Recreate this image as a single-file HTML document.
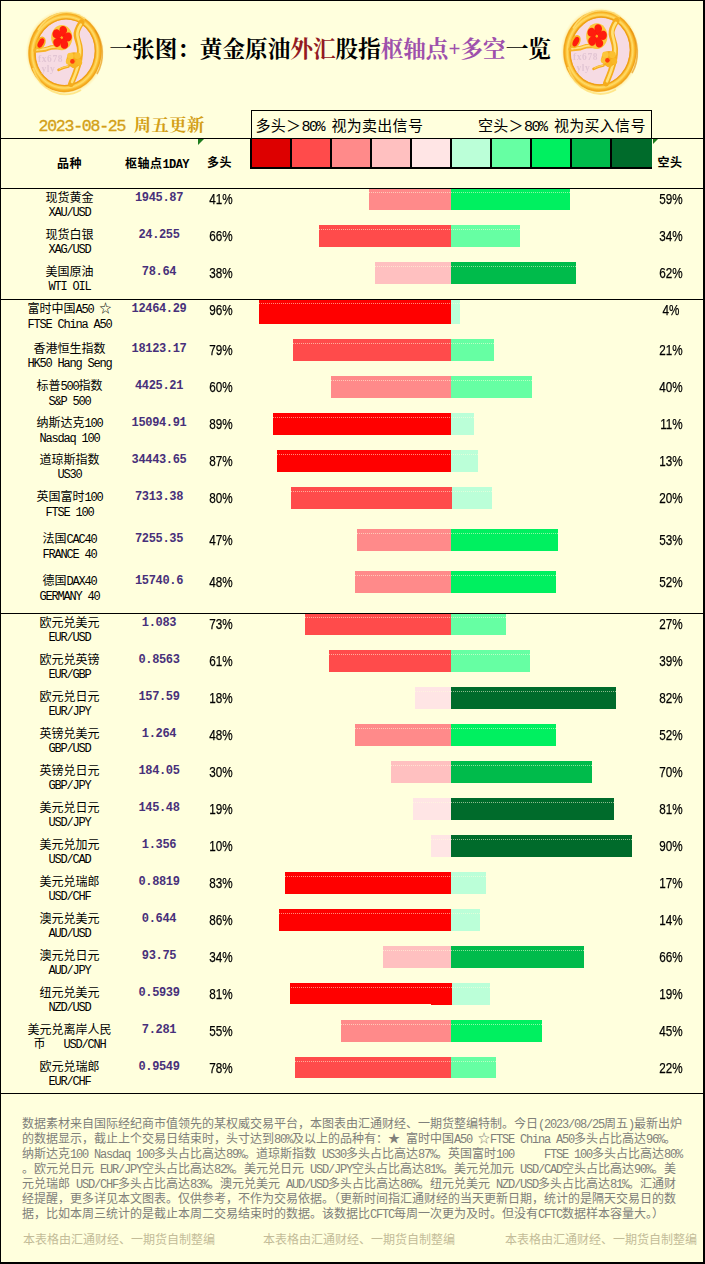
<!DOCTYPE html>
<html lang="zh-CN"><head><meta charset="utf-8"><title>一张图：黄金原油外汇股指枢轴点+多空一览</title>
<style>
html,body{margin:0;padding:0;background:#FFFFDD}
body{width:705px;height:1264px;position:relative;overflow:hidden;background:#FFFFDD;font-family:"Liberation Serif",serif;color:#000}
div,span{box-sizing:border-box}
.a{position:absolute;white-space:nowrap}
.hl{position:absolute;left:0;width:703px;height:1px;background:#000}
.l{font-family:"Liberation Mono",monospace;letter-spacing:-.1em;display:inline-block;white-space:pre;text-align:left;vertical-align:baseline}
.c{display:inline-block;position:relative;white-space:nowrap;vertical-align:baseline;text-align:left;letter-spacing:0;font-family:"Liberation Sans","Noto Sans CJK SC",sans-serif}
.ti .c{font-family:"Liberation Serif","Noto Serif CJK SC",serif;font-weight:bold}
.dt0 .c{font-family:"Liberation Serif","Noto Serif CJK SC",serif;font-weight:bold;letter-spacing:.4px}
.hd .c{letter-spacing:.5px}
.lgt .c{letter-spacing:.3px}
.ti{left:109.5px;top:36px;font-size:22.6px;line-height:28px}
.ti .pl{font-size:21px;font-weight:bold;position:relative;top:-1.5px}
.dt0{left:38.5px;top:116px;font-size:17.33px;line-height:20px;color:#D3A017}
.dn{display:inline-block;white-space:pre;width:95.3px;font-family:"Liberation Mono",monospace;letter-spacing:-1.23px;font-size:16.5px;-webkit-text-stroke:.35px #D3A017}
.lgt{top:116px;font-size:15px;line-height:19px}
.nm{position:absolute;left:9.5px;width:120px;text-align:center;font-size:12px;line-height:14px;white-space:nowrap}
.pv{position:absolute;left:110px;width:100px;text-align:center;font:bold 12px/14px "Liberation Mono",monospace;letter-spacing:-.34px;color:#47307A;white-space:nowrap}
.pc{position:absolute;width:60px;text-align:center;font:15px/16px "Liberation Sans",sans-serif;white-space:nowrap;color:#000;-webkit-text-stroke:.25px #000}
.pc span{display:inline-block;transform:scaleX(.78)}
.br{position:absolute}
.dt{position:absolute;height:1px;background:repeating-linear-gradient(90deg,rgba(255,255,221,.55) 0 1px,rgba(255,255,221,0) 1px 2px)}
.hd{position:absolute;font-weight:bold;font-size:12px;line-height:14px;white-space:nowrap}
.ft{position:absolute;left:22px;font-size:12px;line-height:15px;color:#80807A;white-space:nowrap}
.wm{position:absolute;top:1233px;font-size:12px;line-height:14px;color:#C3BC98;white-space:nowrap}
.lg{position:absolute;top:139px;height:28px;width:38px}
.dv{position:absolute;top:138px;height:31px;width:2px;background:#000}

</style></head><body>
<div class="a" style="left:0;top:0;width:705px;height:1px;background:#000"></div>
<div class="a" style="left:0;top:0;width:1px;height:1264px;background:#000"></div>
<div class="a" style="left:703px;top:0;width:2px;height:1264px;background:#000"></div>
<div class="a" style="left:0;top:1262px;width:705px;height:2px;background:#000"></div>
<svg width="0" height="0" style="position:absolute">
<defs>
<radialGradient id="gRing" cx="50%" cy="50%" r="50%">
<stop offset="0.78" stop-color="#EC9A14"/>
<stop offset="0.83" stop-color="#FBBA2C"/>
<stop offset="0.89" stop-color="#FFDC68"/>
<stop offset="0.94" stop-color="#F9B628"/>
<stop offset="0.975" stop-color="#F0A21A"/>
<stop offset="1" stop-color="#F7BE4A"/>
</radialGradient>
<radialGradient id="gGlow" cx="50%" cy="50%" r="50%">
<stop offset="0.88" stop-color="#FBD56A" stop-opacity="0.9"/>
<stop offset="1" stop-color="#FFF3B0" stop-opacity="0"/>
</radialGradient>
<linearGradient id="gGold" x1="0" y1="0" x2="1" y2="0">
<stop offset="0" stop-color="#F5A81A"/>
<stop offset="0.5" stop-color="#FFD75A"/>
<stop offset="1" stop-color="#F0A010"/>
</linearGradient>
<filter id="fSoft" x="-10%" y="-10%" width="120%" height="120%"><feGaussianBlur stdDeviation="0.55"/></filter>
<filter id="fSoft2" x="-10%" y="-10%" width="120%" height="120%"><feGaussianBlur stdDeviation="0.35"/></filter>
</defs></svg><svg class="a" style="left:25px;top:8px" width="80" height="88" viewBox="0 0 80 88" preserveAspectRatio="none"><g>
<ellipse cx="40" cy="44.3" rx="39.5" ry="42.8" fill="url(#gGlow)"/>
<g filter="url(#fSoft)">
<ellipse cx="40" cy="44.3" rx="36.8" ry="40.2" fill="url(#gRing)" transform="rotate(8 40 44.3)"/>
<ellipse cx="40.2" cy="44.2" rx="29.6" ry="33" fill="#F6DBE3" transform="rotate(10 40 44.3)"/>
<ellipse cx="40.2" cy="44.2" rx="30" ry="33.4" fill="none" stroke="#EFA018" stroke-width="1.4" transform="rotate(10 40 44.3)"/>
<path d="M13 22 A33 36 0 0 1 60 11" fill="none" stroke="#FFE27A" stroke-width="1.6" opacity=".8"/>
<path d="M8 60 A34 38 0 0 0 56 82" fill="none" stroke="#FFDF70" stroke-width="1.8" opacity=".75"/>
<path d="M70 22 A34 38 0 0 1 72 66" fill="none" stroke="#E58C0A" stroke-width="1.6" opacity=".6"/>
</g>
<g font-family="'Liberation Serif',serif" font-weight="bold" font-size="9.5" fill="#DDC0D0" opacity=".8" letter-spacing="0.6">
<text x="13" y="53.5">fx678</text>
<text x="16.5" y="64">yly</text>
</g>
<g filter="url(#fSoft2)">
<!-- main branch -->
<path d="M56.5 14.5 C53.5 19 51 23 51.6 27.5 C52.2 32 54.8 36 55 42 C55.2 48 54 55 51.5 62 C50 67 47.8 71.5 46 76" fill="none" stroke="#F5AC1C" stroke-width="6" stroke-linecap="round"/>
<path d="M55.8 16.5 C53.4 20 52 24 52.4 27.5 C53 32 55 36 55.1 42 C55.2 48 54 55 51.6 62 C50.4 66 48.6 70 47 74" fill="none" stroke="#FFE27A" stroke-width="2.6" stroke-linecap="round"/>
<!-- horizontal stem -->
<path d="M10.5 42.5 C15 41.5 19 42.5 23 40.5 C27 38.5 32 39.5 37.5 39.5" fill="none" stroke="#F7B226" stroke-width="4.4" stroke-linecap="round"/>
<path d="M12 42 C16 41 19.5 41.8 23.5 40 C27.5 38.4 32 39 36.5 39" fill="none" stroke="#FFE27A" stroke-width="1.8" stroke-linecap="round"/>
<!-- bud left -->
<ellipse cx="15.6" cy="35" rx="4.6" ry="6.8" fill="#F8B524" transform="rotate(28 15.6 35)"/>
<ellipse cx="15.9" cy="35" rx="2.7" ry="5" fill="#FF1B08" transform="rotate(28 15.9 35)"/>
<!-- big flower -->
<ellipse cx="36.8" cy="29.6" rx="10.6" ry="12.6" fill="#FCC63A"/>
<g fill="#FF1A08" transform="translate(36.8 29.6) scale(.96 1.13) rotate(8)">
<path d="M0.3 -0.6 C-2.6 -2.6 -4.6 -6.6 -2.6 -9.2 C-0.8 -11.3 3.4 -10.8 4.4 -7.6 C5 -5.4 3.4 -2.6 1.2 -1 C0.9 -0.8 0.6 -0.7 0.3 -0.6 Z"/><path d="M0.3 -0.6 C-2.6 -2.6 -4.6 -6.6 -2.6 -9.2 C-0.8 -11.3 3.4 -10.8 4.4 -7.6 C5 -5.4 3.4 -2.6 1.2 -1 C0.9 -0.8 0.6 -0.7 0.3 -0.6 Z" transform="rotate(72)"/><path d="M0.3 -0.6 C-2.6 -2.6 -4.6 -6.6 -2.6 -9.2 C-0.8 -11.3 3.4 -10.8 4.4 -7.6 C5 -5.4 3.4 -2.6 1.2 -1 C0.9 -0.8 0.6 -0.7 0.3 -0.6 Z" transform="rotate(144)"/><path d="M0.3 -0.6 C-2.6 -2.6 -4.6 -6.6 -2.6 -9.2 C-0.8 -11.3 3.4 -10.8 4.4 -7.6 C5 -5.4 3.4 -2.6 1.2 -1 C0.9 -0.8 0.6 -0.7 0.3 -0.6 Z" transform="rotate(216)"/><path d="M0.3 -0.6 C-2.6 -2.6 -4.6 -6.6 -2.6 -9.2 C-0.8 -11.3 3.4 -10.8 4.4 -7.6 C5 -5.4 3.4 -2.6 1.2 -1 C0.9 -0.8 0.6 -0.7 0.3 -0.6 Z" transform="rotate(288)"/>
</g>
<circle cx="36.8" cy="29.6" r="1.2" fill="#FFB020"/>
<!-- gold flower -->
<g transform="translate(49 51.8)">
<circle r="7.6" fill="#F6AC1C"/>
<circle cx="-3.6" cy="-3.8" r="3.3" fill="#FCC63A"/>
<circle cx="3.4" cy="-4" r="3.3" fill="#FBC030"/>
<circle cx="5" cy="2.4" r="3.2" fill="#F9B828"/>
<circle cx="-5" cy="1.6" r="3.2" fill="#FBC234"/>
<circle cx="0.2" cy="5.2" r="3.2" fill="#F8B422"/>
<circle cx="-1.6" cy="1.6" r="2.3" fill="#FF3A10"/>
</g>
<!-- twig -->
<path d="M43.5 58.5 C40 59 37 60 33.5 61.8" fill="none" stroke="#F5AA1C" stroke-width="2.6" stroke-linecap="round"/>
<path d="M43 58.3 C40 58.8 37.5 59.5 34.5 61" fill="none" stroke="#FFDC66" stroke-width="0.9" stroke-linecap="round"/>
</g>
</g></svg><svg class="a" style="left:560px;top:6.3px" width="80" height="89.6" viewBox="0 0 80 88" preserveAspectRatio="none"><g>
<ellipse cx="40" cy="44.3" rx="39.5" ry="42.8" fill="url(#gGlow)"/>
<g filter="url(#fSoft)">
<ellipse cx="40" cy="44.3" rx="36.8" ry="40.2" fill="url(#gRing)" transform="rotate(8 40 44.3)"/>
<ellipse cx="40.2" cy="44.2" rx="29.6" ry="33" fill="#F6DBE3" transform="rotate(10 40 44.3)"/>
<ellipse cx="40.2" cy="44.2" rx="30" ry="33.4" fill="none" stroke="#EFA018" stroke-width="1.4" transform="rotate(10 40 44.3)"/>
<path d="M13 22 A33 36 0 0 1 60 11" fill="none" stroke="#FFE27A" stroke-width="1.6" opacity=".8"/>
<path d="M8 60 A34 38 0 0 0 56 82" fill="none" stroke="#FFDF70" stroke-width="1.8" opacity=".75"/>
<path d="M70 22 A34 38 0 0 1 72 66" fill="none" stroke="#E58C0A" stroke-width="1.6" opacity=".6"/>
</g>
<g font-family="'Liberation Serif',serif" font-weight="bold" font-size="9.5" fill="#DDC0D0" opacity=".8" letter-spacing="0.6">
<text x="13" y="53.5">fx678</text>
<text x="16.5" y="64">yly</text>
</g>
<g filter="url(#fSoft2)">
<!-- main branch -->
<path d="M56.5 14.5 C53.5 19 51 23 51.6 27.5 C52.2 32 54.8 36 55 42 C55.2 48 54 55 51.5 62 C50 67 47.8 71.5 46 76" fill="none" stroke="#F5AC1C" stroke-width="6" stroke-linecap="round"/>
<path d="M55.8 16.5 C53.4 20 52 24 52.4 27.5 C53 32 55 36 55.1 42 C55.2 48 54 55 51.6 62 C50.4 66 48.6 70 47 74" fill="none" stroke="#FFE27A" stroke-width="2.6" stroke-linecap="round"/>
<!-- horizontal stem -->
<path d="M10.5 42.5 C15 41.5 19 42.5 23 40.5 C27 38.5 32 39.5 37.5 39.5" fill="none" stroke="#F7B226" stroke-width="4.4" stroke-linecap="round"/>
<path d="M12 42 C16 41 19.5 41.8 23.5 40 C27.5 38.4 32 39 36.5 39" fill="none" stroke="#FFE27A" stroke-width="1.8" stroke-linecap="round"/>
<!-- bud left -->
<ellipse cx="15.6" cy="35" rx="4.6" ry="6.8" fill="#F8B524" transform="rotate(28 15.6 35)"/>
<ellipse cx="15.9" cy="35" rx="2.7" ry="5" fill="#FF1B08" transform="rotate(28 15.9 35)"/>
<!-- big flower -->
<ellipse cx="36.8" cy="29.6" rx="10.6" ry="12.6" fill="#FCC63A"/>
<g fill="#FF1A08" transform="translate(36.8 29.6) scale(.96 1.13) rotate(8)">
<path d="M0.3 -0.6 C-2.6 -2.6 -4.6 -6.6 -2.6 -9.2 C-0.8 -11.3 3.4 -10.8 4.4 -7.6 C5 -5.4 3.4 -2.6 1.2 -1 C0.9 -0.8 0.6 -0.7 0.3 -0.6 Z"/><path d="M0.3 -0.6 C-2.6 -2.6 -4.6 -6.6 -2.6 -9.2 C-0.8 -11.3 3.4 -10.8 4.4 -7.6 C5 -5.4 3.4 -2.6 1.2 -1 C0.9 -0.8 0.6 -0.7 0.3 -0.6 Z" transform="rotate(72)"/><path d="M0.3 -0.6 C-2.6 -2.6 -4.6 -6.6 -2.6 -9.2 C-0.8 -11.3 3.4 -10.8 4.4 -7.6 C5 -5.4 3.4 -2.6 1.2 -1 C0.9 -0.8 0.6 -0.7 0.3 -0.6 Z" transform="rotate(144)"/><path d="M0.3 -0.6 C-2.6 -2.6 -4.6 -6.6 -2.6 -9.2 C-0.8 -11.3 3.4 -10.8 4.4 -7.6 C5 -5.4 3.4 -2.6 1.2 -1 C0.9 -0.8 0.6 -0.7 0.3 -0.6 Z" transform="rotate(216)"/><path d="M0.3 -0.6 C-2.6 -2.6 -4.6 -6.6 -2.6 -9.2 C-0.8 -11.3 3.4 -10.8 4.4 -7.6 C5 -5.4 3.4 -2.6 1.2 -1 C0.9 -0.8 0.6 -0.7 0.3 -0.6 Z" transform="rotate(288)"/>
</g>
<circle cx="36.8" cy="29.6" r="1.2" fill="#FFB020"/>
<!-- gold flower -->
<g transform="translate(49 51.8)">
<circle r="7.6" fill="#F6AC1C"/>
<circle cx="-3.6" cy="-3.8" r="3.3" fill="#FCC63A"/>
<circle cx="3.4" cy="-4" r="3.3" fill="#FBC030"/>
<circle cx="5" cy="2.4" r="3.2" fill="#F9B828"/>
<circle cx="-5" cy="1.6" r="3.2" fill="#FBC234"/>
<circle cx="0.2" cy="5.2" r="3.2" fill="#F8B422"/>
<circle cx="-1.6" cy="1.6" r="2.3" fill="#FF3A10"/>
</g>
<!-- twig -->
<path d="M43.5 58.5 C40 59 37 60 33.5 61.8" fill="none" stroke="#F5AA1C" stroke-width="2.6" stroke-linecap="round"/>
<path d="M43 58.3 C40 58.8 37.5 59.5 34.5 61" fill="none" stroke="#FFDC66" stroke-width="0.9" stroke-linecap="round"/>
</g>
</g></svg>
<div class="a ti"><span class="c" style="width:180.8px">一张图：黄金原油</span><span style="color:#931A22"><span class="c" style="width:45.2px">外汇</span></span><span class="c" style="width:45.2px">股指</span><span style="color:#9E50AC"><span class="c" style="width:67.8px">枢轴点</span><span class="pl">+</span><span class="c" style="width:45.2px">多空</span></span><span class="c" style="width:45.2px">一览</span></div>
<div class="a dt0"><span class="dn">2023-08-25 </span><span class="c" style="width:70.92px">周五更新</span></div>
<div class="a" style="left:251px;top:110px;width:401px;height:29px;border:1px solid #000;border-bottom:none"></div>
<div class="a lgt" style="left:255.5px"><span class="c" style="width:45.9px">多头＞</span><span class="l" style="width:30px">80% </span><span class="c" style="width:91.8px">视为卖出信号</span></div>
<div class="a lgt" style="left:478px"><span class="c" style="width:45.9px">空头＞</span><span class="l" style="width:30px">80% </span><span class="c" style="width:91.8px">视为买入信号</span></div>
<div class="lg" style="left:252px;background:#DD0000"></div>
<div class="lg" style="left:292px;background:#FF4B4B"></div>
<div class="lg" style="left:332px;background:#FF8A8A"></div>
<div class="lg" style="left:372px;background:#FFC0C0"></div>
<div class="lg" style="left:412px;background:#FFE5E5"></div>
<div class="lg" style="left:452px;background:#BBFFD8"></div>
<div class="lg" style="left:492px;background:#66FFA3"></div>
<div class="lg" style="left:532px;background:#00F060"></div>
<div class="lg" style="left:572px;background:#00BB4B"></div>
<div class="lg" style="left:612px;background:#006B2B;width:40px"></div>
<div class="dv" style="left:250px"></div>
<div class="dv" style="left:290px"></div>
<div class="dv" style="left:330px"></div>
<div class="dv" style="left:370px"></div>
<div class="dv" style="left:410px"></div>
<div class="dv" style="left:450px"></div>
<div class="dv" style="left:490px"></div>
<div class="dv" style="left:530px"></div>
<div class="dv" style="left:570px"></div>
<div class="dv" style="left:610px"></div>
<div class="a" style="left:250px;top:167px;width:402px;height:2px;background:#000"></div>
<div class="a" style="left:198px;top:139px;width:0;height:0;border-top:6px solid #1E7D1E;border-right:6px solid transparent"></div>
<div class="a" style="left:653px;top:139px;width:0;height:0;border-top:5px solid #1E7D1E;border-right:5px solid transparent"></div>
<div class="hd" style="left:57px;top:157px"><span class="c" style="width:25px">品种</span></div>
<div class="hd" style="left:125px;top:157px"><span class="c" style="width:37.5px">枢轴点</span><span class="l" style="letter-spacing:-.6px">1DAY</span></div>
<div class="hd" style="left:207px;top:156px"><span class="c" style="width:25px">多头</span></div>
<div class="hd" style="left:657.5px;top:156px"><span class="c" style="width:25px">空头</span></div>
<div class="nm" style="top:191px"><span class="c" style="width:48px">现货黄金</span><br><span class="l" style="width:42px">XAU/USD</span></div>
<div class="pv" style="left:109px;top:191px">1945.87</div>
<div class="pc" style="left:191px;top:191px"><span>41%</span></div>
<div class="pc" style="left:641px;top:191px"><span>59%</span></div>
<div class="br" style="left:369px;top:188px;width:82px;height:22px;background:#FF8A8A"></div>
<div class="br" style="left:451px;top:188px;width:119px;height:22px;background:#00F060"></div>
<div class="dt" style="left:369px;top:192px;width:201px"></div>
<div class="nm" style="top:228px"><span class="c" style="width:48px">现货白银</span><br><span class="l" style="width:42px">XAG/USD</span></div>
<div class="pv" style="left:109px;top:228px">24.255</div>
<div class="pc" style="left:191px;top:228px"><span>66%</span></div>
<div class="pc" style="left:641px;top:228px"><span>34%</span></div>
<div class="br" style="left:319px;top:225px;width:132px;height:22px;background:#FF4B4B"></div>
<div class="br" style="left:451px;top:225px;width:69px;height:22px;background:#66FFA3"></div>
<div class="dt" style="left:319px;top:229px;width:201px"></div>
<div class="nm" style="top:265px"><span class="c" style="width:48px">美国原油</span><br><span class="l" style="width:42px">WTI OIL</span></div>
<div class="pv" style="left:109px;top:265px">78.64</div>
<div class="pc" style="left:191px;top:265px"><span>38%</span></div>
<div class="pc" style="left:641px;top:265px"><span>62%</span></div>
<div class="br" style="left:375px;top:262px;width:76px;height:22px;background:#FFC0C0"></div>
<div class="br" style="left:451px;top:262px;width:125px;height:22px;background:#00BB4B"></div>
<div class="dt" style="left:375px;top:266px;width:201px"></div>
<div class="nm" style="top:302px"><span class="c" style="width:48px">富时中国</span><span class="l" style="width:24px">A50 </span><span class="c" style="width:12px">☆</span><br><span class="l" style="width:84px">FTSE China A50</span></div>
<div class="pv" style="left:109px;top:302px">12464.29</div>
<div class="pc" style="left:191px;top:302px"><span>96%</span></div>
<div class="pc" style="left:641px;top:302px"><span>4%</span></div>
<div class="br" style="left:259px;top:299px;width:192px;height:25px;background:#FF0000"></div>
<div class="br" style="left:451px;top:299px;width:9px;height:25px;background:#BBFFD8"></div>
<div class="dt" style="left:259px;top:303px;width:201px"></div>
<div class="nm" style="top:342px"><span class="c" style="width:72px">香港恒生指数</span><br><span class="l" style="width:84px">HK50 Hang Seng</span></div>
<div class="pv" style="left:109px;top:342px">18123.17</div>
<div class="pc" style="left:191px;top:342px"><span>79%</span></div>
<div class="pc" style="left:641px;top:342px"><span>21%</span></div>
<div class="br" style="left:293px;top:339px;width:158px;height:22px;background:#FF4B4B"></div>
<div class="br" style="left:451px;top:339px;width:43px;height:22px;background:#66FFA3"></div>
<div class="dt" style="left:293px;top:343px;width:201px"></div>
<div class="nm" style="top:379px"><span class="c" style="width:24px">标普</span><span class="l" style="width:18px">500</span><span class="c" style="width:24px">指数</span><br><span class="l" style="width:42px">S&amp;P 500</span></div>
<div class="pv" style="left:109px;top:379px">4425.21</div>
<div class="pc" style="left:191px;top:379px"><span>60%</span></div>
<div class="pc" style="left:641px;top:379px"><span>40%</span></div>
<div class="br" style="left:331px;top:376px;width:120px;height:22px;background:#FF8A8A"></div>
<div class="br" style="left:451px;top:376px;width:81px;height:22px;background:#66FFA3"></div>
<div class="dt" style="left:331px;top:380px;width:201px"></div>
<div class="nm" style="top:416px"><span class="c" style="width:48px">纳斯达克</span><span class="l" style="width:18px">100</span><br><span class="l" style="width:60px">Nasdaq 100</span></div>
<div class="pv" style="left:109px;top:416px">15094.91</div>
<div class="pc" style="left:191px;top:416px"><span>89%</span></div>
<div class="pc" style="left:641px;top:416px"><span>11%</span></div>
<div class="br" style="left:273px;top:413px;width:178px;height:22px;background:#FF0000"></div>
<div class="br" style="left:451px;top:413px;width:23px;height:22px;background:#BBFFD8"></div>
<div class="dt" style="left:273px;top:417px;width:201px"></div>
<div class="nm" style="top:453px"><span class="c" style="width:60px">道琼斯指数</span><br><span class="l" style="width:24px">US30</span></div>
<div class="pv" style="left:109px;top:453px">34443.65</div>
<div class="pc" style="left:191px;top:453px"><span>87%</span></div>
<div class="pc" style="left:641px;top:453px"><span>13%</span></div>
<div class="br" style="left:277px;top:450px;width:174px;height:22px;background:#FF0000"></div>
<div class="br" style="left:451px;top:450px;width:27px;height:22px;background:#BBFFD8"></div>
<div class="dt" style="left:277px;top:454px;width:201px"></div>
<div class="nm" style="top:490px"><span class="c" style="width:48px">英国富时</span><span class="l" style="width:18px">100</span><br><span class="l" style="width:48px">FTSE 100</span></div>
<div class="pv" style="left:109px;top:490px">7313.38</div>
<div class="pc" style="left:191px;top:490px"><span>80%</span></div>
<div class="pc" style="left:641px;top:490px"><span>20%</span></div>
<div class="br" style="left:291px;top:487px;width:161px;height:22px;background:#FF4B4B"></div>
<div class="br" style="left:452px;top:487px;width:40px;height:22px;background:#BBFFD8"></div>
<div class="dt" style="left:291px;top:491px;width:201px"></div>
<div class="nm" style="top:532px"><span class="c" style="width:24px">法国</span><span class="l" style="width:30px">CAC40</span><br><span class="l" style="width:54px">FRANCE 40</span></div>
<div class="pv" style="left:109px;top:532px">7255.35</div>
<div class="pc" style="left:191px;top:532px"><span>47%</span></div>
<div class="pc" style="left:641px;top:532px"><span>53%</span></div>
<div class="br" style="left:357px;top:529px;width:94px;height:22px;background:#FF8A8A"></div>
<div class="br" style="left:451px;top:529px;width:107px;height:22px;background:#00F060"></div>
<div class="dt" style="left:357px;top:533px;width:201px"></div>
<div class="nm" style="top:574px"><span class="c" style="width:24px">德国</span><span class="l" style="width:30px">DAX40</span><br><span class="l" style="width:60px">GERMANY 40</span></div>
<div class="pv" style="left:109px;top:574px">15740.6</div>
<div class="pc" style="left:191px;top:574px"><span>48%</span></div>
<div class="pc" style="left:641px;top:574px"><span>52%</span></div>
<div class="br" style="left:355px;top:571px;width:96px;height:22px;background:#FF8A8A"></div>
<div class="br" style="left:451px;top:571px;width:105px;height:22px;background:#00F060"></div>
<div class="dt" style="left:355px;top:575px;width:201px"></div>
<div class="nm" style="top:616px"><span class="c" style="width:60px">欧元兑美元</span><br><span class="l" style="width:42px">EUR/USD</span></div>
<div class="pv" style="left:109px;top:616px">1.083</div>
<div class="pc" style="left:191px;top:616px"><span>73%</span></div>
<div class="pc" style="left:641px;top:616px"><span>27%</span></div>
<div class="br" style="left:305px;top:613px;width:146px;height:22px;background:#FF4B4B"></div>
<div class="br" style="left:451px;top:613px;width:55px;height:22px;background:#66FFA3"></div>
<div class="dt" style="left:305px;top:617px;width:201px"></div>
<div class="nm" style="top:653px"><span class="c" style="width:60px">欧元兑英镑</span><br><span class="l" style="width:42px">EUR/GBP</span></div>
<div class="pv" style="left:109px;top:653px">0.8563</div>
<div class="pc" style="left:191px;top:653px"><span>61%</span></div>
<div class="pc" style="left:641px;top:653px"><span>39%</span></div>
<div class="br" style="left:329px;top:650px;width:122px;height:22px;background:#FF4B4B"></div>
<div class="br" style="left:451px;top:650px;width:79px;height:22px;background:#66FFA3"></div>
<div class="dt" style="left:329px;top:654px;width:201px"></div>
<div class="nm" style="top:690px"><span class="c" style="width:60px">欧元兑日元</span><br><span class="l" style="width:42px">EUR/JPY</span></div>
<div class="pv" style="left:109px;top:690px">157.59</div>
<div class="pc" style="left:191px;top:690px"><span>18%</span></div>
<div class="pc" style="left:641px;top:690px"><span>82%</span></div>
<div class="br" style="left:415px;top:687px;width:36px;height:22px;background:#FFE5E5"></div>
<div class="br" style="left:451px;top:687px;width:165px;height:22px;background:#006B2B"></div>
<div class="dt" style="left:415px;top:691px;width:201px"></div>
<div class="nm" style="top:727px"><span class="c" style="width:60px">英镑兑美元</span><br><span class="l" style="width:42px">GBP/USD</span></div>
<div class="pv" style="left:109px;top:727px">1.264</div>
<div class="pc" style="left:191px;top:727px"><span>48%</span></div>
<div class="pc" style="left:641px;top:727px"><span>52%</span></div>
<div class="br" style="left:355px;top:724px;width:96px;height:22px;background:#FF8A8A"></div>
<div class="br" style="left:451px;top:724px;width:105px;height:22px;background:#00F060"></div>
<div class="dt" style="left:355px;top:728px;width:201px"></div>
<div class="nm" style="top:764px"><span class="c" style="width:60px">英镑兑日元</span><br><span class="l" style="width:42px">GBP/JPY</span></div>
<div class="pv" style="left:109px;top:764px">184.05</div>
<div class="pc" style="left:191px;top:764px"><span>30%</span></div>
<div class="pc" style="left:641px;top:764px"><span>70%</span></div>
<div class="br" style="left:391px;top:761px;width:60px;height:22px;background:#FFC0C0"></div>
<div class="br" style="left:451px;top:761px;width:141px;height:22px;background:#00BB4B"></div>
<div class="dt" style="left:391px;top:765px;width:201px"></div>
<div class="nm" style="top:801px"><span class="c" style="width:60px">美元兑日元</span><br><span class="l" style="width:42px">USD/JPY</span></div>
<div class="pv" style="left:109px;top:801px">145.48</div>
<div class="pc" style="left:191px;top:801px"><span>19%</span></div>
<div class="pc" style="left:641px;top:801px"><span>81%</span></div>
<div class="br" style="left:413px;top:798px;width:38px;height:22px;background:#FFE5E5"></div>
<div class="br" style="left:451px;top:798px;width:163px;height:22px;background:#006B2B"></div>
<div class="dt" style="left:413px;top:802px;width:201px"></div>
<div class="nm" style="top:838px"><span class="c" style="width:60px">美元兑加元</span><br><span class="l" style="width:42px">USD/CAD</span></div>
<div class="pv" style="left:109px;top:838px">1.356</div>
<div class="pc" style="left:191px;top:838px"><span>10%</span></div>
<div class="pc" style="left:641px;top:838px"><span>90%</span></div>
<div class="br" style="left:431px;top:835px;width:20px;height:22px;background:#FFE5E5"></div>
<div class="br" style="left:451px;top:835px;width:181px;height:22px;background:#006B2B"></div>
<div class="dt" style="left:431px;top:839px;width:201px"></div>
<div class="nm" style="top:875px"><span class="c" style="width:60px">美元兑瑞郎</span><br><span class="l" style="width:42px">USD/CHF</span></div>
<div class="pv" style="left:109px;top:875px">0.8819</div>
<div class="pc" style="left:191px;top:875px"><span>83%</span></div>
<div class="pc" style="left:641px;top:875px"><span>17%</span></div>
<div class="br" style="left:285px;top:872px;width:166px;height:22px;background:#FF0000"></div>
<div class="br" style="left:451px;top:872px;width:35px;height:22px;background:#BBFFD8"></div>
<div class="dt" style="left:285px;top:876px;width:201px"></div>
<div class="nm" style="top:912px"><span class="c" style="width:60px">澳元兑美元</span><br><span class="l" style="width:42px">AUD/USD</span></div>
<div class="pv" style="left:109px;top:912px">0.644</div>
<div class="pc" style="left:191px;top:912px"><span>86%</span></div>
<div class="pc" style="left:641px;top:912px"><span>14%</span></div>
<div class="br" style="left:279px;top:909px;width:172px;height:22px;background:#FF0000"></div>
<div class="br" style="left:451px;top:909px;width:29px;height:22px;background:#BBFFD8"></div>
<div class="dt" style="left:279px;top:913px;width:201px"></div>
<div class="nm" style="top:949px"><span class="c" style="width:60px">澳元兑日元</span><br><span class="l" style="width:42px">AUD/JPY</span></div>
<div class="pv" style="left:109px;top:949px">93.75</div>
<div class="pc" style="left:191px;top:949px"><span>34%</span></div>
<div class="pc" style="left:641px;top:949px"><span>66%</span></div>
<div class="br" style="left:383px;top:946px;width:68px;height:22px;background:#FFC0C0"></div>
<div class="br" style="left:451px;top:946px;width:133px;height:22px;background:#00BB4B"></div>
<div class="dt" style="left:383px;top:950px;width:201px"></div>
<div class="nm" style="top:986px"><span class="c" style="width:60px">纽元兑美元</span><br><span class="l" style="width:42px">NZD/USD</span></div>
<div class="pv" style="left:109px;top:986px">0.5939</div>
<div class="pc" style="left:191px;top:986px"><span>81%</span></div>
<div class="pc" style="left:641px;top:986px"><span>19%</span></div>
<div class="br" style="left:290px;top:983px;width:162px;height:22px;background:#FF0000"></div>
<div class="br" style="left:452px;top:983px;width:38px;height:22px;background:#BBFFD8"></div>
<div class="a" style="left:289px;top:1004px;width:142px;height:1px;background:#FFFFDD"></div>
<div class="dt" style="left:289px;top:987px;width:201px"></div>
<div class="nm" style="top:1023px"><span class="c" style="width:84px">美元兑离岸人民</span><br><span class="c" style="width:12px">币</span><span class="l" style="width:60px">&nbsp;&nbsp;&nbsp;USD/CNH</span></div>
<div class="pv" style="left:109px;top:1023px">7.281</div>
<div class="pc" style="left:191px;top:1023px"><span>55%</span></div>
<div class="pc" style="left:641px;top:1023px"><span>45%</span></div>
<div class="br" style="left:341px;top:1020px;width:110px;height:22px;background:#FF8A8A"></div>
<div class="br" style="left:451px;top:1020px;width:91px;height:22px;background:#00F060"></div>
<div class="dt" style="left:341px;top:1024px;width:201px"></div>
<div class="nm" style="top:1060px"><span class="c" style="width:60px">欧元兑瑞郎</span><br><span class="l" style="width:42px">EUR/CHF</span></div>
<div class="pv" style="left:109px;top:1060px">0.9549</div>
<div class="pc" style="left:191px;top:1060px"><span>78%</span></div>
<div class="pc" style="left:641px;top:1060px"><span>22%</span></div>
<div class="br" style="left:295px;top:1057px;width:156px;height:21px;background:#FF4B4B"></div>
<div class="br" style="left:451px;top:1057px;width:45px;height:21px;background:#66FFA3"></div>
<div class="dt" style="left:295px;top:1061px;width:201px"></div>
<div class="hl" style="top:138px"></div>
<div class="hl" style="top:188px"></div>
<div class="hl" style="top:299px"></div>
<div class="hl" style="top:613px"></div>
<div class="hl" style="top:1093px"></div>
<div class="ft" style="top:1117px"><span class="c" style="width:516px">数据素材来自国际经纪商市值领先的某权威交易平台，本图表由汇通财经、一期货整编特制。今日</span><span class="l" style="width:66px">(2023/08/25</span><span class="c" style="width:24px">周五</span><span class="l" style="width:6px">)</span><span class="c" style="width:48px">最新出炉</span></div>
<div class="ft" style="top:1132px"><span class="c" style="width:252px">的数据显示，截止上个交易日结束时，头寸达到</span><span class="l" style="width:18px">80%</span><span class="c" style="width:108px">及以上的品种有：★</span><span class="l" style="width:6px"> </span><span class="c" style="width:48px">富时中国</span><span class="l" style="width:24px">A50 </span><span class="c" style="width:12px">☆</span><span class="l" style="width:84px">FTSE China A50</span><span class="c" style="width:72px">多头占比高达</span><span class="l" style="width:18px">96%</span><span class="c" style="width:12px">。</span></div>
<div class="ft" style="top:1147px"><span class="c" style="width:48px">纳斯达克</span><span class="l" style="width:84px">100 Nasdaq 100</span><span class="c" style="width:72px">多头占比高达</span><span class="l" style="width:18px">89%</span><span class="c" style="width:72px">。道琼斯指数</span><span class="l" style="width:30px"> US30</span><span class="c" style="width:72px">多头占比高达</span><span class="l" style="width:18px">87%</span><span class="c" style="width:60px">。英国富时</span><span class="l" style="width:96px">100&nbsp;&nbsp;&nbsp;&nbsp;&nbsp;FTSE 100</span><span class="c" style="width:72px">多头占比高达</span><span class="l" style="width:18px">80%</span></div>
<div class="ft" style="top:1162px"><span class="c" style="width:72px">。欧元兑日元</span><span class="l" style="width:48px"> EUR/JPY</span><span class="c" style="width:72px">空头占比高达</span><span class="l" style="width:18px">82%</span><span class="c" style="width:72px">。美元兑日元</span><span class="l" style="width:48px"> USD/JPY</span><span class="c" style="width:72px">空头占比高达</span><span class="l" style="width:18px">81%</span><span class="c" style="width:72px">。美元兑加元</span><span class="l" style="width:48px"> USD/CAD</span><span class="c" style="width:72px">空头占比高达</span><span class="l" style="width:18px">90%</span><span class="c" style="width:24px">。美</span></div>
<div class="ft" style="top:1177px"><span class="c" style="width:48px">元兑瑞郎</span><span class="l" style="width:48px"> USD/CHF</span><span class="c" style="width:72px">多头占比高达</span><span class="l" style="width:18px">83%</span><span class="c" style="width:72px">。澳元兑美元</span><span class="l" style="width:48px"> AUD/USD</span><span class="c" style="width:72px">多头占比高达</span><span class="l" style="width:18px">86%</span><span class="c" style="width:72px">。纽元兑美元</span><span class="l" style="width:48px"> NZD/USD</span><span class="c" style="width:72px">多头占比高达</span><span class="l" style="width:18px">81%</span><span class="c" style="width:48px">。汇通财</span></div>
<div class="ft" style="top:1192px"><span class="c" style="width:660px">经提醒，更多详见本文图表。仅供参考，不作为交易依据。（更新时间指汇通财经的当天更新日期，统计的是隔天交易日的数</span></div>
<div class="ft" style="top:1207px"><span class="c" style="width:348px">据，比如本周三统计的是截止本周二交易结束时的数据。该数据比</span><span class="l" style="width:24px">CFTC</span><span class="c" style="width:144px">每周一次更为及时。但没有</span><span class="l" style="width:24px">CFTC</span><span class="c" style="width:108px">数据样本容量大。）</span></div>
<div class="wm" style="left:23px"><span class="c" style="width:192px">本表格由汇通财经、一期货自制整编</span></div>
<div class="wm" style="left:263px"><span class="c" style="width:192px">本表格由汇通财经、一期货自制整编</span></div>
<div class="wm" style="left:505px"><span class="c" style="width:192px">本表格由汇通财经、一期货自制整编</span></div>
</body></html>
